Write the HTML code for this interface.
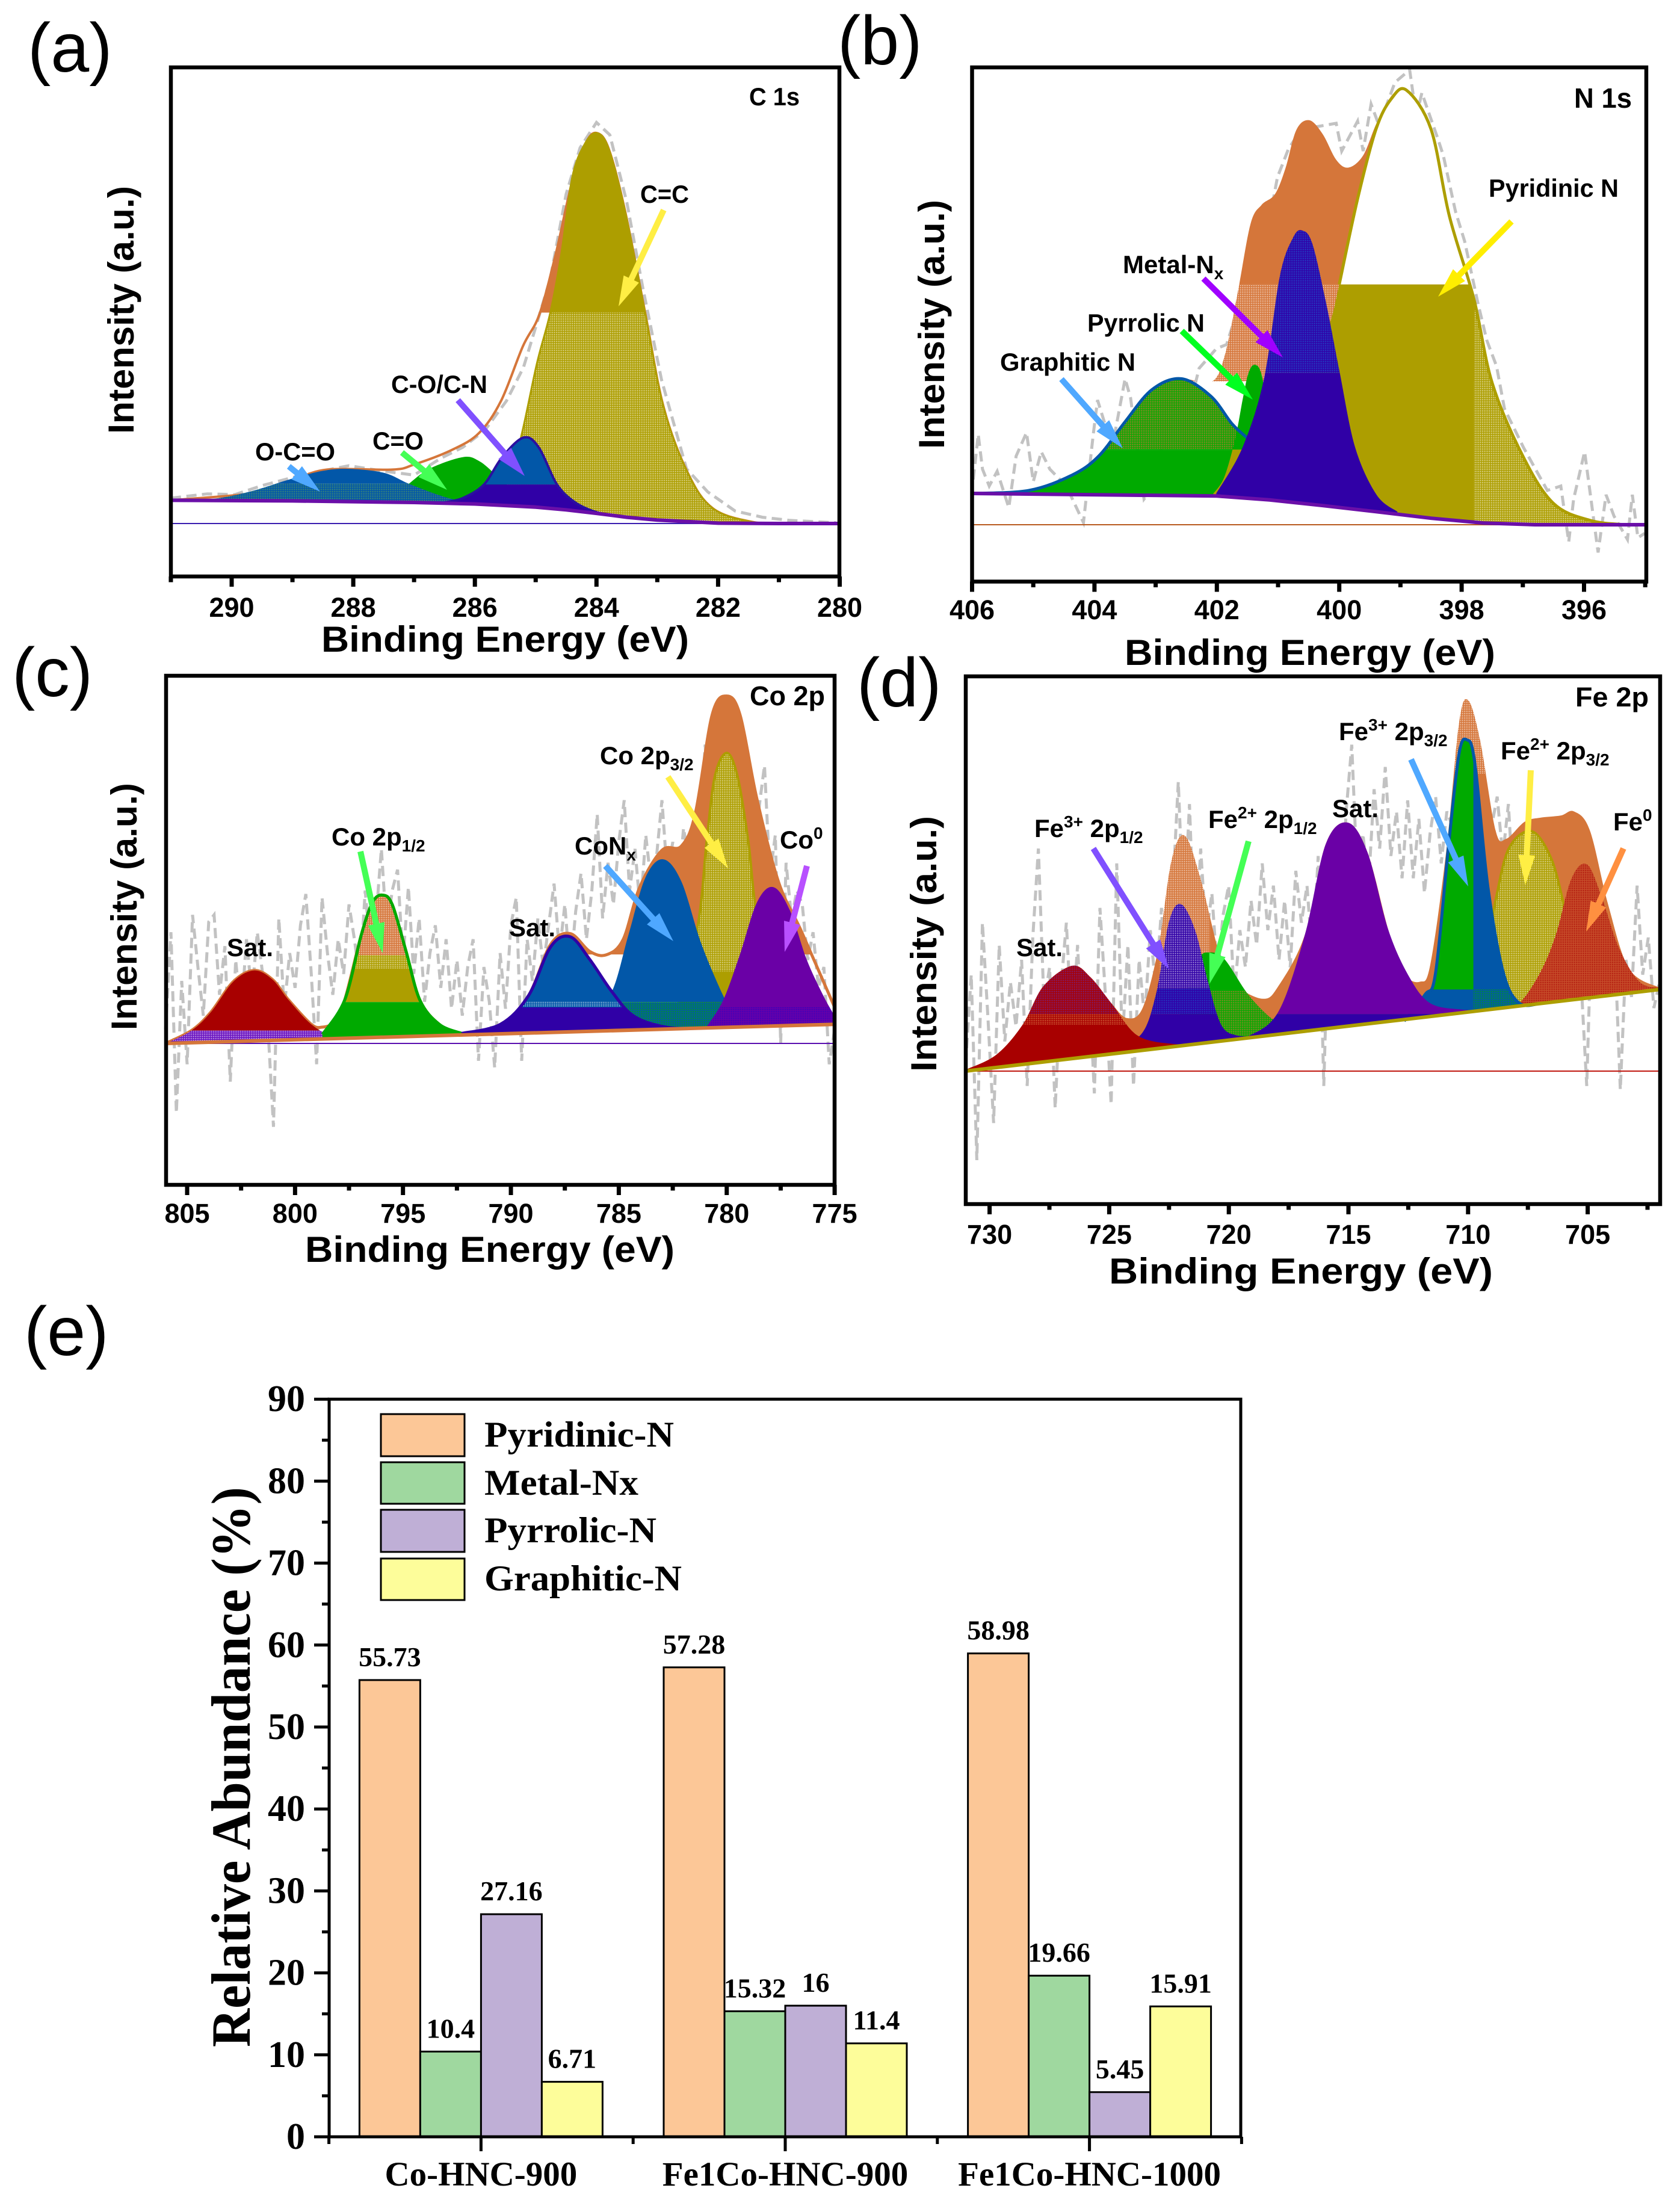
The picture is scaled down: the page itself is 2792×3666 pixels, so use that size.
<!DOCTYPE html>
<html lang="en">
<head>
<meta charset="utf-8">
<title>XPS spectra and relative abundance of nitrogen species</title>
<style>
html,body{margin:0;padding:0;background:#fff;width:2792px;height:3666px;overflow:hidden}
svg{display:block}
.s{font-family:"Liberation Sans",sans-serif;font-weight:bold;fill:#000}
.r{font-family:"Liberation Sans",sans-serif;font-weight:normal;fill:#000;font-size:115px}
.t{font-family:"Liberation Serif",serif;font-weight:bold;fill:#000}
.lab{font-size:42px}
.axt{font-size:60px}
</style>
</head>
<body>
<svg id="figure" xmlns="http://www.w3.org/2000/svg" width="2792" height="3666" viewBox="0 0 2792 3666">
<defs id="defs"></defs>
<rect width="2792" height="3666" fill="#fff"/>
<g id="panel-a"></g>
<g id="panel-b"></g>
<g id="panel-c"></g>
<g id="panel-d"></g>
<g id="panel-e"></g>
<g id="arrows"></g>

<g>
<text class="r" x="46" y="119">(a)</text>
<text class="r" x="1392" y="107">(b)</text>
<text class="r" x="20" y="1157">(c)</text>
<text class="r" x="1424" y="1174">(d)</text>
<text class="r" x="40" y="2252">(e)</text>
</g>

<g>
<text class="s axt" x="534" y="1083" textLength="611" lengthAdjust="spacingAndGlyphs">Binding Energy (eV)</text>
<text class="s axt" transform="translate(222,721) rotate(-90)" textLength="412" lengthAdjust="spacingAndGlyphs">Intensity (a.u.)</text>
<text class="s lab" x="1245" y="175" textLength="84" lengthAdjust="spacingAndGlyphs">C 1s</text>
<text class="s lab" x="1064" y="337" textLength="81" lengthAdjust="spacingAndGlyphs">C=C</text>
<text class="s lab" x="650" y="653" textLength="160" lengthAdjust="spacingAndGlyphs">C-O/C-N</text>
<text class="s lab" x="619" y="747" textLength="85" lengthAdjust="spacingAndGlyphs">C=O</text>
<text class="s lab" x="424" y="765" textLength="133" lengthAdjust="spacingAndGlyphs">O-C=O</text>
</g>

<g>
<text class="s axt" x="1869" y="1105" textLength="616" lengthAdjust="spacingAndGlyphs">Binding Energy (eV)</text>
<text class="s axt" transform="translate(1569,746) rotate(-90)" textLength="414" lengthAdjust="spacingAndGlyphs">Intensity (a.u.)</text>
<text class="s lab" x="2616" y="179" style="font-size:46px" textLength="96" lengthAdjust="spacingAndGlyphs">N 1s</text>
<text class="s lab" x="2474" y="327" textLength="216" lengthAdjust="spacingAndGlyphs">Pyridinic N</text>
<text class="s lab" x="1866" y="454">Metal-N<tspan dy="10" style="font-size:28px">x</tspan></text>
<text class="s lab" x="1807" y="551" textLength="195" lengthAdjust="spacingAndGlyphs">Pyrrolic N</text>
<text class="s lab" x="1662" y="616" textLength="225" lengthAdjust="spacingAndGlyphs">Graphitic N</text>
</g>

<g>
<text class="s axt" x="507" y="2097" textLength="614" lengthAdjust="spacingAndGlyphs">Binding Energy (eV)</text>
<text class="s axt" transform="translate(227,1712) rotate(-90)" textLength="411" lengthAdjust="spacingAndGlyphs">Intensity (a.u.)</text>
<text class="s lab" x="1246" y="1172" style="font-size:45px" textLength="125" lengthAdjust="spacingAndGlyphs">Co 2p</text>
<text class="s lab" x="997" y="1270">Co 2p<tspan dy="10" style="font-size:28px">3/2</tspan></text>
<text class="s lab" x="551" y="1405">Co 2p<tspan dy="10" style="font-size:28px">1/2</tspan></text>
<text class="s lab" x="955" y="1420">CoN<tspan dy="10" style="font-size:28px">x</tspan></text>
<text class="s lab" x="1296" y="1410">Co<tspan dy="-16" style="font-size:28px">0</tspan></text>
<text class="s lab" x="846" y="1556">Sat.</text>
<text class="s lab" x="377" y="1589">Sat.</text>
</g>

<g>
<text class="s axt" x="1843" y="2133" textLength="638" lengthAdjust="spacingAndGlyphs">Binding Energy (eV)</text>
<text class="s axt" transform="translate(1556,1781) rotate(-90)" textLength="425" lengthAdjust="spacingAndGlyphs">Intensity (a.u.)</text>
<text class="s lab" x="2618" y="1174" style="font-size:45px" textLength="122" lengthAdjust="spacingAndGlyphs">Fe 2p</text>
<text class="s lab" x="2225" y="1230">Fe<tspan dy="-16" style="font-size:28px">3+</tspan><tspan dy="16"> 2p</tspan><tspan dy="10" style="font-size:28px">3/2</tspan></text>
<text class="s lab" x="2494" y="1262">Fe<tspan dy="-16" style="font-size:28px">2+</tspan><tspan dy="16"> 2p</tspan><tspan dy="10" style="font-size:28px">3/2</tspan></text>
<text class="s lab" x="2681" y="1380">Fe<tspan dy="-16" style="font-size:28px">0</tspan></text>
<text class="s lab" x="2214" y="1358">Sat.</text>
<text class="s lab" x="2008" y="1376">Fe<tspan dy="-16" style="font-size:28px">2+</tspan><tspan dy="16"> 2p</tspan><tspan dy="10" style="font-size:28px">1/2</tspan></text>
<text class="s lab" x="1719" y="1391">Fe<tspan dy="-16" style="font-size:28px">3+</tspan><tspan dy="16"> 2p</tspan><tspan dy="10" style="font-size:28px">1/2</tspan></text>
<text class="s lab" x="1689" y="1589">Sat.</text>
</g>

<g>
<text class="t" transform="translate(415,3402) rotate(-90)" style="font-size:92px" textLength="931" lengthAdjust="spacingAndGlyphs">Relative Abundance (%)</text>
<g>
<rect x="633" y="2350" width="139" height="70" fill="#fcc797" stroke="#000" stroke-width="3"/>
<text class="t" x="805" y="2404" style="font-size:60px" textLength="315" lengthAdjust="spacingAndGlyphs">Pyridinic-N</text>
<rect x="633" y="2430" width="139" height="69" fill="#9fd89f" stroke="#000" stroke-width="3"/>
<text class="t" x="805" y="2484" style="font-size:60px" textLength="256" lengthAdjust="spacingAndGlyphs">Metal-Nx</text>
<rect x="633" y="2509" width="139" height="70" fill="#bfafd6" stroke="#000" stroke-width="3"/>
<text class="t" x="805" y="2563" style="font-size:60px" textLength="286" lengthAdjust="spacingAndGlyphs">Pyrrolic-N</text>
<rect x="633" y="2590" width="139" height="69" fill="#fdfd9a" stroke="#000" stroke-width="3"/>
<text class="t" x="805" y="2643" style="font-size:60px" textLength="328" lengthAdjust="spacingAndGlyphs">Graphitic-N</text>
</g>
</g>
</svg>

<script>
/* ---------- Panel (a) C 1s: binding energy (eV) and intensity (a.u.) ---------- */
const aMajor=[290,288,286,284,282,280];
const aMinor=[291,289,287,285,283,281];
const aBgBE=[291,289,287,286,285,284.5,284,283.5,283,282,281,280];
const aBgI=[5.95,5.8,5.4,5,4.2,3.5,2.6,1.6,.9,.1,0,0];
const aRawBE=[291,290.4,289.95,289.5,288.97,288.5,288.07,287.54,287,286.55,286.2,285.84,285.48,285.2,284.99,284.76,284.5,284.27,284,283.78,283.5,283.24,282.93,282.52,282.17,281.72,281.27,280.82,280.06];
const aRawI=[6.5,7.6,7.4,9.7,11.9,13.5,14.8,13.5,12.4,16.8,19.5,23.8,31.4,40,50.8,62.7,84.3,96.2,102.7,99.5,82.2,60.5,36.8,14,8.1,3.2,1.6,.8,.2];
const aEnvBE=[291,289.5,289,288.43,287.36,287,286.37,285.93,285.57,285.21,284.94,284.67,284.4,284.18,284,283.8,283.53,283.2,282.9,282.5,282.08,281.4,280.8,280];
const aEnvI=[5.95,8,11,13.8,13.8,15.1,18.9,23.2,31.4,45.4,53.5,69,87.6,97.3,100,96,80,54,30,13,3.8,.3,0,0];
const aCcBE=[286,285.5,285.25,284.98,284.76,284.58,284.4,284.2,284,283.8,283.53,283.2,282.9,282.5,282.08,281.4,280.8];
const aCcI=[5.1,10,21.6,41,54,69,88.6,97,100,96,80,54,30,13,3.8,.3,0];
const aGreenBE=[287.6,287.35,287.1,286.75,286.2,285.93,285.65,285.3,285];
const aGreenI=[5.5,7,10,14,17,16,12.4,7.5,4.2];
const aOcoBE=[290.6,290.13,289.6,289.05,288.5,288.07,287.5,287.1,286.65,286.3,285.9];
const aOcoI=[5.9,6.7,8.6,11.3,13.5,14,13,10.3,7.6,6,5];
const aCoBE=[286.5,286.2,285.85,285.55,285.2,284.95,284.65,284.35,284,283.6];
const aCoI=[5.4,6.5,10,17,22,19.5,10,5.4,2.9,1.7];

/* ---------- Panel (b) N 1s ---------- */
const bMajor=[406,404,402,400,398,396];
const bMinor=[405,403,401,399,397,395];
const bBgBE=[406,402,401.14,400.27,399.4,398.5,397.65,396.8,395];
const bBgI=[7.2,6.6,5.7,4.4,3,1.5,.4,0,0];
const bRawBE=[405.98,405.9,405.83,405.72,405.59,405.4,405.28,405.11,405,404.87,404.73,404.46,404.18,404.02,403.95,403.71,403.5,403.41,403.19,402.97,402.8,402.54,402.29,402.01,401.84,401.62,401.31,401.01,400.83,400.62,400.05,399.96,399.7,399.61,399.48,399.35,399.09,398.85,398.74,398.65,398.39,398.3,398.1,397.95,397.74,397.59,397.43,397.3,396.99,396.6,396.38,396.25,396.17,395.99,395.77,395.64,395.51,395.29,395.21,395.12,395.01];
const bRawI=[10.4,20.8,12.8,8.9,12.3,3.95,15.8,21.2,9.9,16.8,12.8,8.9,.5,20.8,28.7,17.8,33.6,29.2,5.9,9.9,31.6,21.7,36,40.5,41.5,51.4,57.3,80,86.5,91,92.4,86,92.9,86,96.8,91.9,101.8,104.7,93.9,99.4,88.9,85,72.1,65.2,51.4,42.5,36.5,26.7,17.8,7.9,8.9,-3.95,5.9,16.8,-6.4,6.9,2,-3.4,6.9,-3,-2];
const bEnvBE=[406,405.07,404.37,403.93,403.5,403.06,402.58,402.1,401.88,401.66,401.45,401.27,401.05,400.88,400.7,400.49,400.27,400.05,399.85,399.61,399.39,399.13,398.9,398.5,398.2,397.8,397.5,397,396.5,395.9,395.3,395];
const bEnvI=[7.2,7.9,11.4,15.8,23.7,31.1,33.6,32.8,38.5,53.4,69.2,73.6,76.1,82,90.9,93.1,89.9,84,82.2,85,92.4,99,100,91,71,52,32.6,15.8,4.9,1,0,0];
const bPyridBE=[402,401.6,401.2,400.8,400.4,400.14,400,399.7,399.4,399.15,398.9,398.5,398.2,397.8,397.5,397,396.5,395.9,395.3,395];
const bPyridI=[6.6,8,12,22,37,47,55.3,75,91,98,100,91,71,52,32.6,15.8,4.9,1,0,0];
const bGraphBE=[406,405.07,404.37,403.93,403.5,403.06,402.58,402.1,401.75,401.49,401.14,400.7,400.27];
const bGraphI=[7.2,7.9,11.4,15.8,23.7,31.1,33.6,29.6,23.2,19.8,12.8,7.9,5.4];
const bPyrrBE=[402.06,401.88,401.7,401.58,401.49,401.39,401.27,401.14,400.97,400.7];
const bPyrrI=[7.1,10.9,19.8,28.7,34.6,36.8,34.6,23.7,11.9,5.9];
const bMetalBE=[402.01,401.58,401.23,400.97,400.75,400.6,400.44,400.22,400,399.74,399.39,399.05];
const bMetalI=[7.2,17.8,33.6,57.3,66.2,67.7,64.7,51.4,35.6,17.8,6.9,3];

/* ---------- Panel (c) Co 2p ---------- */
const cMajor=[805,800,795,790,785,780,775];
const cMinor=[802.5,797.5,792.5,787.5,782.5,777.5];
const cBgBE=[806,775];
const cBgI=[0,5.5];
const cRawStart=806;
const cRawEnd=775;
const cRawI=[4,32,-20,18,-6,37,22,8,35,37,14,28,-11,24,8,30,14,32,20,4,-24,36,10,26,16,34,43,20,-6,42,26,14,30,20,40,30,18,44,26,36,56,32,44,50,24,45,20,36,12,26,34,16,30,10,24,8,22,30,-5,22,12,-7,26,10,34,42,-5,30,18,36,22,34,46,26,40,20,38,49,30,44,66,36,52,40,58,70,44,56,38,60,46,54,70,48,58,44,62,52,66,58,86,60,74,66,80,62,76,64,82,54,68,80,48,60,0,52,36,44,40,24,32,16,22,-6,4];
const cEnvBE=[806,804.8,803.9,802.86,801.9,801.05,800.3,799.25,798.73,798.2,797.7,796.93,796.41,795.95,795.5,794.86,794.22,793.32,792.28,790.48,789.19,788.16,787.25,786.35,785.58,784.8,784.03,783,782.1,781.45,780.68,780,779.38,778.6,777.6,776.55,775];
const cEnvI=[0,3.7,9,17.8,21,18.4,12.5,5.5,4.7,6.2,12.5,31.3,40.6,42.7,40,26.6,12.5,5.5,2.9,5.5,13.7,28.5,31.6,26.5,25.5,29.9,45,55.6,56.8,66.3,94.5,100,94.5,70.3,46.5,32.4,10.4];
const cSat1BE=[805.95,804.8,803.9,802.86,801.9,801.05,800.3,799.25,798.2,796.9];
const cSat1I=[.1,3.7,9,17.8,21,18.4,12.5,5.5,2,1.6];
const cP12BE=[798.73,797.7,796.93,796.41,795.95,795.5,794.86,794.22,793.32,792.28];
const cP12I=[2.6,12.5,31.3,40.6,42.7,40,26.6,12.5,5.5,2.9];
const cSat2BE=[792.28,790.48,789.19,788.16,787.25,786.35,785.32,784.29,782.74,781.19];
const cSat2I=[2.9,5.5,13.7,27.8,30.7,24.2,14.9,7.8,4.6,4.4];
const cConxBE=[787.38,786.35,785.32,784.55,783.77,782.95,782.1,781.19,780.16,779.65,778.6];
const cConxI=[4,7,14.9,31.3,47.7,53,46.6,28.9,13.7,8.5,5];
const cP32BE=[783.26,782.2,781.32,780.93,780.55,780,779.5,779,778.6,777.6,776.55];
const cP32I=[5,12,34.8,58.2,76.9,83.6,76.9,58.2,37,10,5];
const cCo0BE=[780.93,780.16,779.4,778.6,777.84,777.07,776.3,775.52,775];
const cCo0I=[4.8,12.5,25.4,40.6,45,38.3,24.2,13.7,7.9];

/* ---------- Panel (d) Fe 2p ---------- */
const dMajor=[730,725,720,715,710,705];
const dMinor=[727.5,722.5,717.5,712.5,707.5,702.5];
const dBgBE=[731,702];
const dBgI=[0,22];
const dRawStart=731;
const dRawEnd=702;
const dRawI=[2,26,-24,40,14,-14,34,8,24,12,30,-4,36,60,18,28,-10,22,40,10,34,4,26,-6,44,20,-9,56,8,34,-4,30,14,38,22,44,12,48,78,40,72,30,60,36,48,26,42,50,20,38,28,46,34,56,38,50,30,46,28,54,40,50,30,58,-4,50,62,40,70,88,52,64,50,76,60,82,58,70,52,73,52,68,48,64,74,56,70,66,50,60,72,60,74,52,66,74,58,72,46,60,44,66,52,60,44,54,36,52,30,46,24,-4,47,30,40,28,34,-5,30,20,50,26,36,17,24];
const dEnvBE=[731.03,729.72,728.62,727.75,726.55,725.78,724.91,724.25,723.6,722.94,722.4,721.85,721.19,720.32,719.66,718.57,717.93,716.82,715.95,715.03,714.2,713.33,712.67,712.01,711.58,710.92,710.38,710,709.5,708.85,708.41,707.64,707,706.13,705.57,704.91,704.15,703.27,701.96];
const dEnvI=[.3,4.4,12.5,22.9,28.4,25.3,18.3,14.3,17.1,33.4,56.6,63.5,52,29.9,23,19.5,22.9,36.8,61.2,67,58.9,38,26.4,24.1,28.7,58.9,93.6,100,89.2,64.9,62.6,67.2,68.3,68.9,70,64.9,45,27.6,22.4];
const dSat1BE=[731.03,729.72,728.62,727.75,726.55,725.78,724.91,723.82,722.29,721];
const dSat1I=[.3,4.4,12.5,22.9,28.4,25.3,18.3,9.6,7.3,7.6];
const dF3aBE=[725,723.71,723.05,722.5,722,721.41,720.87,720.32,719.66,718.79];
const dF3aI=[7,9.6,20.6,40.3,45,38,24.1,12.5,9.6,9.6];
const dF2aBE=[722.29,721.63,721.24,720.87,720.21,719.23,718.35,717.7];
const dF2aI=[10,24,30.5,32,30.4,21,14.9,12.5];
const dSat2BE=[720.1,719.23,717.93,716.82,715.95,715.03,714.2,713.33,712.45,711.58,710.27,709.17];
const dSat2I=[8.3,9.3,16,36.8,61.2,67,58.9,38,25.3,18.3,16.6,16.5];
const dF3bBE=[712.67,711.8,711.36,710.81,710.38,710.05,709.72,709.17,708.52,707.86,707];
const dF3bI=[13.5,20.6,26.4,61.2,85.5,89.3,83.2,49.6,26.4,18.3,18.2];
const dF2bBE=[710.27,709.17,708.85,708.3,707.36,706.55,706,705.46,704.8];
const dF2bI=[16,35.7,46.1,60,64.7,57.7,45,28.7,20];
const dF0BE=[708.52,707.86,707,706.33,705.68,705.02,704.37,703.71,702.84,701.96];
const dF0I=[17.4,18.3,26.4,36.8,51.9,55.7,46.1,33.4,24.1,22.4];

/* ---------- Panel (e) bar chart ---------- */
const eCategories=['Co-HNC-900','Fe1Co-HNC-900','Fe1Co-HNC-1000'];
const ePyridinic=[55.73,57.28,58.98];
const eMetal=[10.4,15.32,19.66];
const ePyrrolic=[27.16,16,5.45];
const eGraphitic=[6.71,11.4,15.91];
const eYMajor=[0,10,20,30,40,50,60,70,80,90];
const eYMinor=[5,15,25,35,45,55,65,75,85];

/* ---------- helpers ---------- */
const NS='http://www.w3.org/2000/svg';
const defs=document.getElementById('defs');
let uid=0;
function mk(tag,attrs,parent){
  const e=document.createElementNS(NS,tag);
  for(const k in attrs)e.setAttribute(k,attrs[k]);
  if(parent)parent.appendChild(e);
  return e;
}
function pat(fg,dot,cell,size){
  const id='p'+(++uid);
  const c=cell||3, s=size||1.25;
  const p=mk('pattern',{id:id,width:c,height:c,patternUnits:'userSpaceOnUse'},defs);
  mk('rect',{width:c,height:c,fill:fg},p);
  mk('rect',{width:s,height:s,fill:dot},p);
  return 'url(#'+id+')';
}
function smooth(pts){
  let d='M'+pts[0][0].toFixed(1)+' '+pts[0][1].toFixed(1);
  for(let i=0;i<pts.length-1;i++){
    const p0=pts[i-1]||pts[i],p1=pts[i],p2=pts[i+1],p3=pts[i+2]||p2;
    d+='C'+(p1[0]+(p2[0]-p0[0])/6).toFixed(1)+' '+(p1[1]+(p2[1]-p0[1])/6).toFixed(1)+' '+
      (p2[0]-(p3[0]-p1[0])/6).toFixed(1)+' '+(p2[1]-(p3[1]-p1[1])/6).toFixed(1)+' '+
      p2[0].toFixed(1)+' '+p2[1].toFixed(1);
  }
  return d;
}
function bgAt(p,be){
  const B=p.bgBE,I=p.bgI;
  if(be>=B[0])return I[0];
  for(let k=0;k<B.length-1;k++){
    if(be<=B[k]&&be>=B[k+1])return I[k]+(I[k+1]-I[k])*(B[k]-be)/(B[k]-B[k+1]);
  }
  return I[I.length-1];
}
function curve(p,be,i){return smooth(be.map((b,k)=>[p.x(b),p.y(i[k])]));}
function areaPath(p,be,i){
  let d=curve(p,be,i);
  const first=be[0],last=be[be.length-1];
  d+='L'+p.x(last).toFixed(1)+' '+p.y(bgAt(p,last)).toFixed(1);
  for(let k=p.bgBE.length-1;k>=0;k--){
    if(p.bgBE[k]>last&&p.bgBE[k]<first)d+='L'+p.x(p.bgBE[k]).toFixed(1)+' '+p.y(p.bgI[k]).toFixed(1);
  }
  d+='L'+p.x(first).toFixed(1)+' '+p.y(bgAt(p,first)).toFixed(1)+'Z';
  return d;
}
function clipFor(p,b){
  const id='c'+(++uid);
  const cp=mk('clipPath',{id:id},defs);
  const top=b.hi===undefined?-100:p.y(b.hi);
  const bot=b.lo===undefined?3666:p.y(b.lo);
  const left=b.beHi===undefined?0:p.x(b.beHi);
  const right=b.beLo===undefined?2792:p.x(b.beLo);
  mk('rect',{x:left,y:top,width:right-left,height:bot-top},cp);
  return 'url(#'+id+')';
}
function peak(p,name,be,i,bands,stroke,sw){
  const d=areaPath(p,be,i);
  bands.forEach(b=>{
    const el=mk('path',{d:d,fill:b.fill,'clip-path':clipFor(p,b)},p.g);
    
    
  });
  if(stroke)outline(p,name,be,i,stroke,sw);
}
function outline(p,name,be,i,stroke,sw){
  const el=mk('path',{d:curve(p,be,i),fill:'none',stroke:stroke,'stroke-width':sw||4},p.g);
  
  
}
function raw(p,be,i){
  const pts=be.map((b,k)=>p.x(b).toFixed(1)+','+p.y(i[k]).toFixed(1)).join(' ');
  const el=mk('polyline',{points:pts,fill:'none',stroke:'#c2c2c2','stroke-width':5,'stroke-dasharray':'17 9'},p.g);
  
  
}
function grid(start,end,n){const a=[];for(let k=0;k<n;k++)a.push(start+(end-start)*k/(n-1));return a;}
function background(p,color,sw){
  const el=mk('path',{d:'M'+p.bgBE.map((b,k)=>p.x(b).toFixed(1)+' '+p.y(p.bgI[k]).toFixed(1)).join('L'),fill:'none',stroke:color,'stroke-width':sw},p.g);
  
  
}
function zeroLine(p,color){
  const el=mk('line',{x1:p.left,x2:p.right,y1:p.y(0),y2:p.y(0),stroke:color,'stroke-width':2},p.g);
  
  
}
function frame(p){
  const el=mk('rect',{x:p.left,y:p.top,width:p.right-p.left,height:p.bottom-p.top,fill:'none',stroke:'#000','stroke-width':6.5},p.g);
  
  
}
function xAxis(p,major,minor,baseline){
  major.forEach(v=>{
    const t=mk('line',{x1:p.x(v),x2:p.x(v),y1:p.bottom,y2:p.bottom+17,stroke:'#000','stroke-width':7},p.g);
    
    
    const l=mk('text',{x:p.x(v),y:baseline,'text-anchor':'middle',class:'s','font-size':45},p.g);
    
    
    l.textContent=v;
  });
  minor.forEach(v=>{
    const t=mk('line',{x1:p.x(v),x2:p.x(v),y1:p.bottom,y2:p.bottom+9.5,stroke:'#000','stroke-width':7},p.g);
    
    
  });
}

const GOLD='#ad9e00',ORANGE='#d5763a',BLUE='#0257a8',GREEN='#00aa00',INDIGO='#3000a6',VIOLET='#6a00a6',RED='#a80000';

/* ---------- draw (a) ---------- */
const pa={g:document.getElementById('panel-a'),left:284,right:1395,top:112,bottom:958,
  x:b=>385+(290-b)*101.05,y:i=>870-i*6.49,bgBE:aBgBE,bgI:aBgI};
raw(pa,aRawBE,aRawI);
zeroLine(pa,'#3b1fb0');
peak(pa,'envelope',aEnvBE,aEnvI,[{fill:ORANGE,lo:54}],ORANGE,4);
peak(pa,'cc-peak',aCcBE,aCcI,[{fill:GOLD,lo:54},{fill:pat(GOLD,'#fff'),hi:54}],GOLD,3);
peak(pa,'c-double-o-peak',aGreenBE,aGreenI,[{fill:GREEN}]);
peak(pa,'oco-peak',aOcoBE,aOcoI,[{fill:BLUE,lo:10.3},{fill:pat(BLUE,'#6fb04a'),hi:10.3}]);
peak(pa,'co-cn-peak',aCoBE,aCoI,[{fill:BLUE,lo:10},{fill:INDIGO,hi:10}],'#2a10a0',4);
background(pa,'#6a0fa8',6);
xAxis(pa,aMajor,aMinor,1025);
frame(pa);

/* ---------- draw (b) ---------- */
const pb={g:document.getElementById('panel-b'),left:1615.5,right:2736,top:112,bottom:966.5,
  x:b=>1615.5+(406-b)*101.7,y:i=>872-i*7.22,bgBE:bBgBE,bgI:bBgI};
raw(pb,bRawBE,bRawI);
zeroLine(pb,'#b85a20');
peak(pb,'envelope',bEnvBE,bEnvI,[{fill:ORANGE,lo:55.3},{fill:pat(ORANGE,'#fff'),lo:33,hi:55.3}]);
peak(pb,'pyridinic-peak',bPyridBE,bPyridI,[{fill:'#fff',lo:55.3},{fill:GOLD,hi:55.3,beLo:397.8},{fill:pat(GOLD,'#fff'),hi:55.3,beHi:397.8}]);
outline(pb,'pyridinic-peak',bPyridBE.slice(6),bPyridI.slice(6),GOLD,5);
peak(pb,'graphitic-peak',bGraphBE,bGraphI,[{fill:GREEN,hi:17.3},{fill:pat(GREEN,'#d5763a',3,1.6),lo:17.3}]);
peak(pb,'pyrrolic-peak',bPyrrBE,bPyrrI,[{fill:GREEN,lo:17.3},{fill:GOLD,hi:17.3}]);
outline(pb,'graphitic-peak',bGraphBE.slice(0,10),bGraphI.slice(0,10),BLUE,5);
peak(pb,'metal-nx-peak',bMetalBE,bMetalI,[{fill:INDIGO,hi:35},{fill:pat(INDIGO,'#1a6ad8',3,1.4),lo:35}]);
background(pb,'#6a0fa8',6);
xAxis(pb,bMajor,bMinor,1029);
frame(pb);

/* ---------- draw (c) ---------- */
const pc={g:document.getElementById('panel-c'),left:276,right:1387,top:1123,bottom:1969,
  x:b=>311+(805-b)*35.87,y:i=>1734-i*5.774,bgBE:cBgBE,bgI:cBgI};
raw(pc,grid(cRawStart,cRawEnd,cRawI.length),cRawI);
zeroLine(pc,'#5a10b0');
peak(pc,'envelope',cEnvBE,cEnvI,[{fill:ORANGE,lo:25.6}],ORANGE,5);
peak(pc,'sat-low-peak',cSat1BE,cSat1I,[{fill:RED,lo:3.7},{fill:pat('#6a12c0','#fff'),hi:3.7}]);
peak(pc,'co-2p12-peak',cP12BE,cP12I,[{fill:pat(ORANGE,'#fff'),lo:25.4},{fill:pat(GOLD,'#fff'),lo:21.3,hi:25.4},{fill:GOLD,lo:11.9,hi:21.3},{fill:GREEN,hi:11.9}],GREEN,5);
peak(pc,'co-2p32-peak',cP32BE,cP32I,[{fill:pat(GOLD,'#fff'),lo:20.7},{fill:GOLD,hi:20.7}],GOLD,4);
peak(pc,'conx-peak',cConxBE,cConxI,[{fill:BLUE,lo:11.9},{fill:pat(BLUE,'#00aa00',3,1.6),hi:11.9}]);
peak(pc,'sat-high-peak',cSat2BE,cSat2I,[{fill:BLUE,lo:11.9},{fill:pat(BLUE,'#fff'),lo:10.4,hi:11.9},{fill:INDIGO,hi:10.4}],INDIGO,5);
peak(pc,'co0-peak',cCo0BE,cCo0I,[{fill:VIOLET,lo:10.4},{fill:pat(VIOLET,'#3000c0',3,1.6),hi:10.4}]);
background(pc,ORANGE,6);
xAxis(pc,cMajor,cMinor,2032);
frame(pc);

/* ---------- draw (d) ---------- */
const pd={g:document.getElementById('panel-d'),left:1605,right:2759,top:1124,bottom:2001,
  x:b=>1644.6+(730-b)*39.76,y:i=>1780-i*6.164,bgBE:dBgBE,bgI:dBgI};
raw(pd,grid(dRawStart,dRawEnd,dRawI.length),dRawI);
zeroLine(pd,'#c01810');
peak(pd,'envelope',dEnvBE,dEnvI,[{fill:ORANGE},{fill:pat(ORANGE,'#fff'),lo:24,beHi:722.9,beLo:720.8},{fill:pat(ORANGE,'#fff'),lo:80,beHi:710.9,beLo:709.2}]);
peak(pd,'fe2-2p32-peak',dF2bBE,dF2bI,[{fill:pat(GOLD,'#fff')}],GOLD,4);
peak(pd,'fe0-peak',dF0BE,dF0I,[{fill:pat('#c8502c','#a80000',3,1.5)}]);
peak(pd,'fe3-2p32-peak',dF3bBE,dF3bI,[{fill:BLUE},{fill:GREEN,lo:22,beLo:709.78},{fill:pat(BLUE,'#00aa00',3,1.5),hi:22,beHi:709.78}],BLUE,5);
peak(pd,'fe2-2p12-peak',dF2aBE,dF2aI,[{fill:GREEN,lo:21.8},{fill:pat(GREEN,'#d5763a',3,1.5),hi:21.8}]);
peak(pd,'fe3-2p12-peak',dF3aBE,dF3aI,[{fill:pat(INDIGO,'#fff'),lo:22.4},{fill:pat(INDIGO,'#1a6ad8'),lo:15.4,hi:22.4},{fill:INDIGO,hi:15.4}]);
peak(pd,'sat-low-peak',dSat1BE,dSat1I,[{fill:pat(RED,'#6030c0',3,1.4),lo:15.4},{fill:pat(RED,'#e08a50',3,1.4),lo:12.5,hi:15.4},{fill:RED,hi:12.5}]);
peak(pd,'sat-mid-peak',dSat2BE,dSat2I,[{fill:VIOLET,lo:15.4},{fill:INDIGO,hi:15.4}]);
background(pd,GOLD,6);
xAxis(pd,dMajor,dMinor,2067);
frame(pd);

/* ---------- draw (e) ---------- */
const eg=document.getElementById('panel-e');
const ex=c=>799.4+c*505.6;
const ey=v=>3551-v*13.62;
const BARW=101;
const eSeries=[[ePyridinic,'#fcc797','pyridinic'],[eMetal,'#9fd89f','metal'],[ePyrrolic,'#bfafd6','pyrrolic'],[eGraphitic,'#fdfd9a','graphitic']];
eSeries.forEach((s,si)=>{
  s[0].forEach((v,c)=>{
    const x0=ex(c)+(si-2)*BARW;
    const r=mk('rect',{x:x0,y:ey(v),width:BARW,height:ey(0)-ey(v),fill:s[1],stroke:'#000','stroke-width':3},eg);
    
    
    const t=mk('text',{x:x0+BARW/2,y:ey(v)-23,'text-anchor':'middle',class:'t','font-size':46},eg);
    
    
    t.textContent=String(v);
  });
});
const eFrame=mk('rect',{x:547,y:ey(90),width:1515,height:ey(0)-ey(90),fill:'none',stroke:'#000','stroke-width':5},eg);


eYMajor.forEach(v=>{
  const t=mk('line',{x1:522,x2:547,y1:ey(v),y2:ey(v),stroke:'#000','stroke-width':5},eg);
  
  
  const l=mk('text',{x:507,y:ey(v)+20,'text-anchor':'end',class:'t','font-size':62},eg);
  
  
  l.textContent=v;
});
eYMinor.forEach(v=>{
  const t=mk('line',{x1:535,x2:547,y1:ey(v),y2:ey(v),stroke:'#000','stroke-width':5},eg);
  
  
});
eCategories.forEach((c,k)=>{
  const t=mk('line',{x1:ex(k),x2:ex(k),y1:ey(0),y2:ey(0)+24,stroke:'#000','stroke-width':5},eg);
  
  
  const l=mk('text',{x:ex(k),y:3632,'text-anchor':'middle',class:'t','font-size':57},eg);
  
  
  l.textContent=c;
});
[-.5,.5,1.5,2.5].forEach(k=>{
  const t=mk('line',{x1:ex(k),x2:ex(k),y1:ey(0),y2:ey(0)+12,stroke:'#000','stroke-width':5},eg);
  
  
});

/* ---------- annotation arrows (pointers, not data marks) ---------- */
const ag=document.getElementById('arrows');
function arrow(name,color,x1,y1,x2,y2){
  const L=Math.hypot(x2-x1,y2-y1),ux=(x2-x1)/L,uy=(y2-y1)/L,nx=-uy,ny=ux;
  const hl=50,hw=14,sw=5;
  const bx=x2-ux*hl,by=y2-uy*hl;
  const pts=[[x1+nx*sw,y1+ny*sw],[bx+nx*sw,by+ny*sw],[bx+nx*hw,by+ny*hw],[x2,y2],[bx-nx*hw,by-ny*hw],[bx-nx*sw,by-ny*sw],[x1-nx*sw,y1-ny*sw]];
  const el=mk('polygon',{points:pts.map(p=>p[0].toFixed(1)+','+p[1].toFixed(1)).join(' '),fill:color},ag);
  
  
}
arrow('a-arrow-cc','#ffee44',1103,349,1028,509);
arrow('a-arrow-co-cn','#8050ff',761,665,872,791);
arrow('a-arrow-co','#44ff55',668,752,743,814);
arrow('a-arrow-oco','#4fa8ff',480,775,532,817);
arrow('b-arrow-pyridinic','#ffee00',2512,368,2390,493);
arrow('b-arrow-metal','#a000ff',2000,463,2132,594);
arrow('b-arrow-pyrrolic','#00ff20',1964,550,2082,664);
arrow('b-arrow-graphitic','#4fa8ff',1764,630,1866,745);
arrow('c-arrow-2p32','#ffee44',1110,1291,1210,1443);
arrow('c-arrow-2p12','#44ff55',599,1415,636,1584);
arrow('c-arrow-conx','#4fa8ff',1006,1439,1119,1564);
arrow('c-arrow-co0','#b850ff',1341,1439,1304,1582);
arrow('d-arrow-fe3-2p32','#4fa8ff',2345,1262,2440,1473);
arrow('d-arrow-fe2-2p32','#ffee44',2544,1280,2535,1471);
arrow('d-arrow-fe0','#ff9040',2698,1410,2636,1548);
arrow('d-arrow-fe2-2p12','#44ff55',2075,1398,2010,1635);
arrow('d-arrow-fe3-2p12','#8050ff',1817,1410,1943,1611);
</script>
</body>
</html>
